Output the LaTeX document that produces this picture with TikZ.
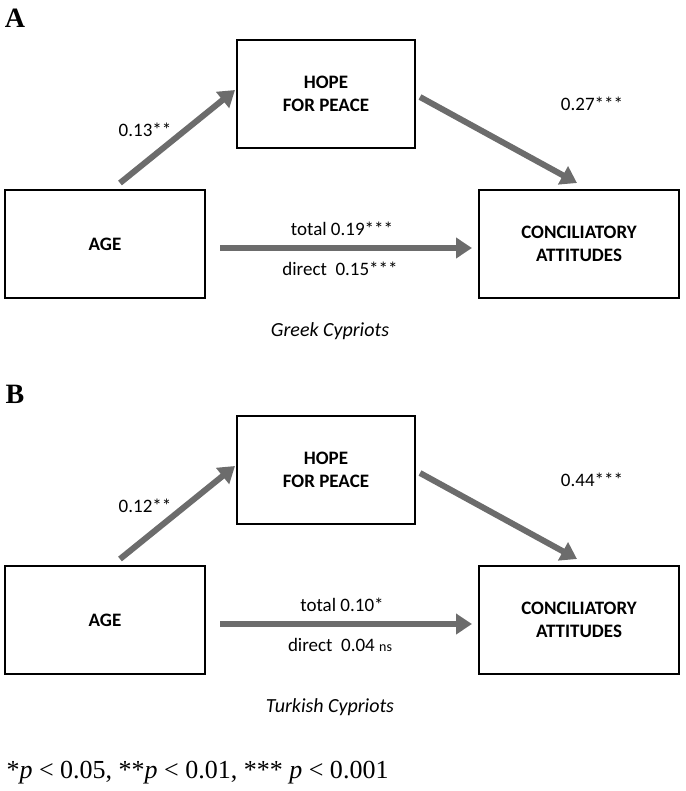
\documentclass[tikz,border=0pt]{standalone}
\usepackage{fontspec}
\setmainfont{Liberation Serif}
\newfontfamily\carlito{Carlito}
\usetikzlibrary{arrows.meta}
\tikzset{
	box/.style = {draw, line width=1.2pt, minimum width=178pt, minimum height=108pt,
		align=center, font=\carlito\fontsize{19}{23}\selectfont\bfseries},
	wide/.style = {box, minimum width=200pt},
	path/.style = {draw=gray!85!black, line width=6pt, -{Triangle[length=16pt,width=20pt]}},
	coef/.style = {font=\carlito\fontsize{19}{23}\selectfont},
}
\begin{document}
\begin{tikzpicture}[x=1pt,y=-1pt]
	\useasboundingbox (0,0) rectangle (685,791);

	\foreach \dy/\lab/\ca/\cb/\tot/\dir/\grp in {
		0/A/0.13**/0.27***/total 0.19***/direct\ \ 0.15***/Greek Cypriots,
		376/B/0.12**/0.44***/total 0.10*/direct\ \ 0.04 {\fontsize{14}{16}\selectfont ns}/Turkish Cypriots} {
		\begin{scope}[shift={(0,\dy)}]
			% Panel letter
			\node[font=\fontsize{28}{32}\selectfont\bfseries] (lab\lab) at (15,18) {\lab};

			% Boxes
			\node[box] (hope\lab) at (326,94) {HOPE\\FOR PEACE};
			\node[wide] (age\lab) at (105,244) {AGE};
			\node[wide] (conc\lab) at (579,244) {CONCILIATORY\\ATTITUDES};

			% Paths
			\coordinate (a1\lab) at (120,183);
			\coordinate (a2\lab) at (235,90);
			\coordinate (b1\lab) at (420,97);
			\coordinate (b2\lab) at (577,183);
			\coordinate (c1\lab) at (220,248);
			\coordinate (c2\lab) at (472,248);
			\draw[path] (a1\lab) -- (a2\lab);
			\draw[path] (b1\lab) -- (b2\lab);
			\draw[path] (c1\lab) -- (c2\lab);

			% Coefficients
			\node[coef] (ca\lab) at (145,130) {\ca};
			\node[coef] (cb\lab) at (592,104) {\cb};
			\node[coef] (tot\lab) at (342,229) {\tot};
			\node[coef] (dir\lab) at (340,269) {\dir};
			\node[coef, font=\carlito\fontsize{20}{24}\selectfont\itshape] (grp\lab) at (330,331) {\grp};
		\end{scope}
	}

	% Footnote
	\node[anchor=west, font=\fontsize{26}{30}\selectfont] (note) at (3,773)
		{*\textit{p} < 0.05, **\textit{p} < 0.01, *** \textit{p} < 0.001};
\end{tikzpicture}
\end{document}
